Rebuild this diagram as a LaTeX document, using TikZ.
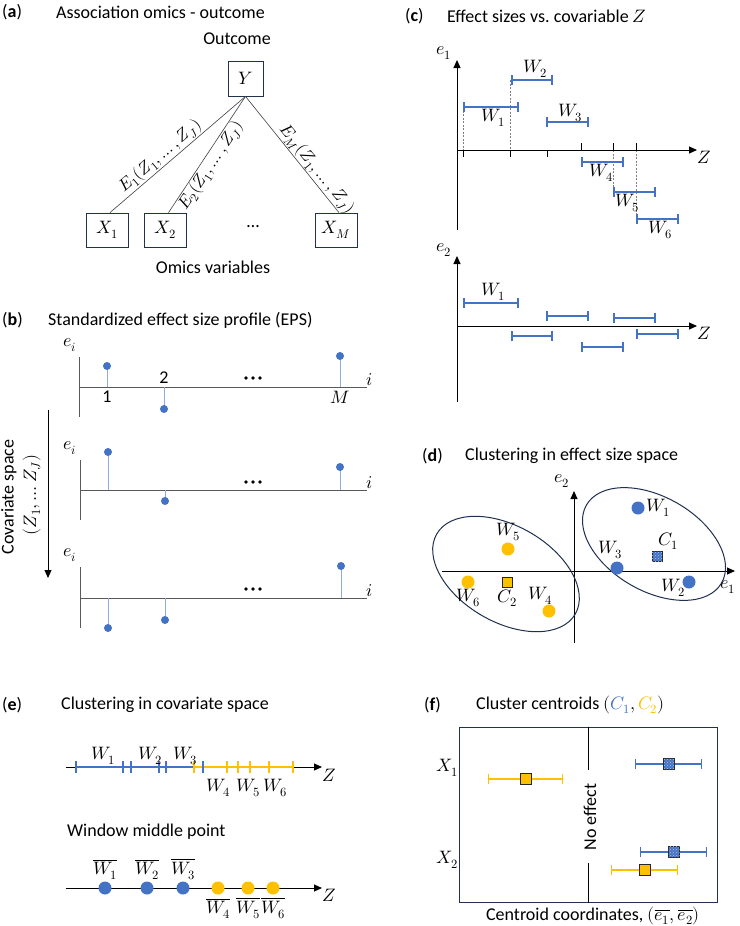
\documentclass[tikz,border=0pt]{standalone}
\usepackage{fontspec}
\usepackage{unicode-math}
\setmainfont{Carlito}
\setmathfont{Latin Modern Math}
\usetikzlibrary{arrows.meta,patterns}
\definecolor{ublue}{HTML}{4472C4}
\definecolor{uyellow}{HTML}{FFC000}
\definecolor{stemc}{HTML}{8FAADC}
\definecolor{axgrey}{HTML}{595959}
\definecolor{navy}{HTML}{203050}
\begin{document}
\begin{tikzpicture}[x=1pt,y=-1pt,
  every node/.style={font=\fontsize{18}{21}\selectfont, inner sep=1pt},
  ttl/.style={anchor=west},
  small/.style={font=\fontsize{17}{20}\selectfont},
  vbox/.style={draw=navy, line width=0.8pt, minimum width=42pt, minimum height=34pt, inner sep=0pt},
  conn/.style={draw=axgrey!70!black, line width=0.6pt},
  bax/.style={draw=axgrey, line width=0.8pt},
  stemln/.style={draw=stemc, line width=0.9pt},
  sdot/.style={circle, fill=ublue, inner sep=0pt, minimum size=8pt},
  bdot/.style={circle, fill=ublue, inner sep=0pt, minimum size=13pt},
  ydot/.style={circle, fill=uyellow, inner sep=0pt, minimum size=13pt},
  ax/.style={draw=black, line width=1pt},
  axarr/.style={ax, -{Triangle[length=8pt,width=7pt]}},
  ival/.style={draw=ublue, line width=1.8pt, {Bar[width=10pt]}-{Bar[width=10pt]}},
  yival/.style={ival, draw=uyellow},
  gdash/.style={draw=gray, dash pattern=on 2pt off 1.5pt, line width=0.5pt},
  sqb/.style={rectangle, draw=black!85, line width=1pt, fill=ublue, minimum size=10pt, inner sep=0pt, postaction={pattern=crosshatch dots, pattern color=white!60!ublue}},
  sqy/.style={rectangle, draw=black!85, line width=1pt, fill=uyellow, minimum size=10pt, inner sep=0pt},
  ell/.style={draw=navy, line width=1pt},
  tk/.style={line width=2pt},
]
\useasboundingbox (0,0) rectangle (739,926);

% ---------------- (a)
\node[ttl] (la) at (1,12) {(\textbf{a})};
\node[ttl] (ta) at (55,12) {Association omics - outcome};
\node (outc) at (237,39) {Outcome};
\node[vbox, minimum width=35pt, minimum height=35pt] (Y) at (245.5,78.5) {$Y$};
\node[vbox] (X1) at (107,230) {$X_1$};
\node[vbox] (X2) at (165.5,230) {$X_2$};
\node[vbox] (XM) at (336,230) {$X_M$};
\node (adots) at (253,227) {\ldots};
\node (omv) at (213,267) {Omics variables};
\draw[conn] ([xshift=3pt]X1.north) -- (Y.south) node[small, pos=0.42, sloped, above] (E1) {$E_1(Z_1,\ldots,Z_J)$};
\draw[conn] ([xshift=3pt]X2.north) -- (Y.south) node[small, pos=0.45, sloped, below] (E2) {$E_2(Z_1,\ldots,Z_J)$};
\draw[conn] (Y.south) -- ([xshift=3pt]XM.north) node[small, pos=0.68, sloped, above] (EM) {$E_M(Z_1,\ldots,Z_J)$};

% ---------------- (b)
\node[ttl] (lb) at (1,320) {(\textbf{b})};
\node[ttl] (tb) at (47,320) {Standardized effect size profile (EPS)};
% plot 1
\draw[bax] (79,357) -- (79,417);
\draw[bax] (79,387) -- (367,387);
\node (ei1) at (70,345) {$e_i$};
\node (i1) at (370,380) {$i$};
\draw[stemln] (107,387) -- (107,366); \node[sdot] (p11) at (107,366) {};
\draw[stemln] (164,387) -- (164,409); \node[sdot] (p12) at (164,409) {};
\draw[stemln] (340,387) -- (340,356); \node[sdot] (p1M) at (340,356) {};
\node (n1) at (107,397) {1};
\node (n2) at (164,378) {2};
\node (nM) at (340,397) {$M$};
\foreach \dx in {-7,0,7} \fill (253+\dx,378) circle (1.8pt);
% plot 2
\draw[bax] (80,460) -- (80,520);
\draw[bax] (80,490) -- (367,490);
\node (ei2) at (70,448) {$e_i$};
\node (i2) at (370,483) {$i$};
\draw[stemln] (108,490) -- (108,452); \node[sdot] (p21) at (108,452) {};
\draw[stemln] (165,490) -- (165,501); \node[sdot] (p22) at (165,501) {};
\draw[stemln] (340,490) -- (340,467); \node[sdot] (p2M) at (340,467) {};
\foreach \dx in {-7,0,7} \fill (253+\dx,482) circle (1.8pt);
% plot 3
\draw[bax] (80,567) -- (80,628);
\draw[bax] (80,598) -- (367,598);
\node (ei3) at (70,555) {$e_i$};
\node (i3) at (370,591) {$i$};
\draw[stemln] (108,598) -- (108,628); \node[sdot] (p31) at (108,628) {};
\draw[stemln] (165,598) -- (165,620); \node[sdot] (p32) at (165,620) {};
\draw[stemln] (341,598) -- (341,566); \node[sdot] (p3M) at (341,566) {};
\foreach \dx in {-7,0,7} \fill (253+\dx,589) circle (1.8pt);
% covariate arrow
\coordinate (cvA) at (48,410);
\coordinate (cvB) at (48,578);
\draw[line width=0.8pt, -{Triangle[length=8pt,width=7pt]}] (cvA) -- (cvB);
\node[rotate=90] (cov1) at (9,497) {Covariate space};
\node[rotate=90] (cov2) at (32,495) {$(Z_1,\ldots Z_J)$};

% ---------------- (c)
\node[ttl] (lc) at (404,16) {(\textbf{c})};
\node[ttl] (tc) at (446,16) {Effect sizes vs.\ covariable $Z$};
\draw[gdash] (463,107) -- (463,150);
\draw[gdash] (510,80) -- (510,150);
\draw[gdash] (613,150) -- (613,192);
\draw[gdash] (636,150) -- (636,219);
\draw[axarr] (457,230) -- (457,60);
\draw[axarr] (457,150) -- (697,150);
\node (e1c) at (444,53) {$e_1$};
\node (Zc1) at (704,157) {$Z$};
\foreach \x in {463,510,547} \draw[line width=1pt] (\x,150) -- (\x,157);
\foreach \x in {581,613,636} \draw[line width=1pt] (\x,143) -- (\x,150);
\draw[ival] (463,107) -- (519,107); \node (cW1) at (493,118) {$W_1$};
\draw[ival] (511,80) -- (553,80);   \node (cW2) at (535,69) {$W_2$};
\draw[ival] (546,122) -- (589,122); \node (cW3) at (570,113) {$W_3$};
\draw[ival] (581,162) -- (624,162); \node (cW4) at (601,173) {$W_4$};
\draw[ival] (613,192) -- (656,192); \node (cW5) at (627,203) {$W_5$};
\draw[ival] (636,219) -- (679,219); \node (cW6) at (660,230) {$W_6$};
% e2 plot
\draw[axarr] (457,402) -- (457,256);
\draw[axarr] (457,326) -- (697,326);
\node (e2c) at (444,250) {$e_2$};
\node (Zc2) at (704,333) {$Z$};
\draw[ival] (463,303) -- (519,303); \node (cW1b) at (493,292) {$W_1$};
\draw[ival] (511,336) -- (553,336);
\draw[ival] (546,316) -- (589,316);
\draw[ival] (581,347) -- (624,347);
\draw[ival] (613,318) -- (656,318);
\draw[ival] (636,334) -- (679,334);

% ---------------- (d)
\node[ttl] (ld) at (421,456) {(\textbf{d})};
\node[ttl] (td) at (464,456) {Clustering in effect size space};
\draw[axarr] (574,643) -- (574,491);
\draw[axarr] (442,571) -- (735,571);
\node (e2d) at (562,481) {$e_2$};
\node (e1d) at (728,587) {$e_1$};
\draw[ell, rotate around={-30:(654,544)}] (654,544) ellipse [x radius=78pt, y radius=47pt];
\draw[ell, rotate around={-30:(506,574)}] (506,574) ellipse [x radius=80pt, y radius=48pt];
\node[bdot] (dW1) at (638,508) {}; \node[anchor=west] (lW1) at (645,508) {$W_1$};
\node[sqb] (dC1) at (657,556) {};  \node (lC1) at (668,541) {$C_1$};
\node[bdot] (dW3) at (617,568) {}; \node (lW3) at (610,550) {$W_3$};
\node[bdot] (dW2) at (689,582) {}; \node (lW2) at (673,588) {$W_2$};
\node[ydot] (dW5) at (508,549) {}; \node (lW5) at (508,532) {$W_5$};
\node[ydot] (dW6) at (468,582) {}; \node (lW6) at (468,598) {$W_6$};
\node[sqy] (dC2) at (507,582) {};  \node (lC2) at (507,598) {$C_2$};
\node[ydot] (dW4) at (549,611) {}; \node (lW4) at (540,596) {$W_4$};

% ---------------- (e)
\node[ttl] (le) at (1,705) {(\textbf{e})};
\node[ttl] (te) at (60,705) {Clustering in covariate space};
\draw[axarr] (66,767) -- (322,767);
\node (Ze1) at (329,775) {$Z$};
\draw[draw=ublue, line width=2.6pt] (76,767) -- (194,767);
\draw[draw=uyellow, line width=2.6pt] (194,767) -- (294,767);
\foreach \x in {194,227,238,250,269,293} \draw[tk, uyellow] (\x,761) -- (\x,773);
\foreach \x in {76,123,131,159,166,203} \draw[tk, ublue] (\x,761) -- (\x,773);
\node (eW1) at (103,756) {$W_1$};
\node (eW2) at (150,756) {$W_2$};
\node (eW3) at (185,756) {$W_3$};
\node (eW4) at (218,788) {$W_4$};
\node (eW5) at (248,788) {$W_5$};
\node (eW6) at (275,788) {$W_6$};
\node[ttl] (tw) at (66,832) {Window middle point};
\draw[axarr] (66,888) -- (322,888);
\node (Ze2) at (329,895) {$Z$};
\node[bdot] (m1) at (105,888) {}; \node (mW1) at (105,869) {$\overline{W_1}$};
\node[bdot] (m2) at (147,888) {}; \node (mW2) at (147,869) {$\overline{W_2}$};
\node[bdot] (m3) at (183,888) {}; \node (mW3) at (183,869) {$\overline{W_3}$};
\node[ydot] (m4) at (218,888) {}; \node (mW4) at (218,908) {$\overline{W_4}$};
\node[ydot] (m5) at (248,888) {}; \node (mW5) at (248,908) {$\overline{W_5}$};
\node[ydot] (m6) at (273,888) {}; \node (mW6) at (273,908) {$\overline{W_6}$};

% ---------------- (f)
\node[ttl] (lf) at (423,705) {(\textbf{f})};
\node[ttl] (tf) at (475,705) {Cluster centroids $(\textcolor{ublue}{C_1},\textcolor{uyellow}{C_2})$};
\node[draw=navy, line width=1pt, minimum width=258pt, minimum height=175pt, inner sep=0pt] (fbox) at (588,814.5) {};
\draw[line width=0.9pt] (fbox.north) -- (588,770);
\draw[line width=0.9pt] (588,863) -- (fbox.south);
\node[rotate=90] (noeff) at (590,817) {No effect};
\node (fX1) at (447,768) {$X_1$};
\node (fX2) at (447,860) {$X_2$};
\draw[ival, line width=1.3pt] (635,764) -- (702,764); \node[sqb, minimum size=11pt] (fc11) at (669,764) {};
\draw[yival, line width=1.3pt] (488,779) -- (563,779); \node[sqy, minimum size=11pt] (fc21) at (526,779) {};
\draw[ival, line width=1.3pt] (640,852) -- (707,852); \node[sqb, minimum size=11pt] (fc12) at (674,852) {};
\draw[yival, line width=1.3pt] (611,870) -- (678,870); \node[sqy, minimum size=11pt] (fc22) at (645,870) {};
\node (fxl) at (593,916) {Centroid coordinates, $(\overline{e_1},\overline{e_2})$};
\end{tikzpicture}
\end{document}
